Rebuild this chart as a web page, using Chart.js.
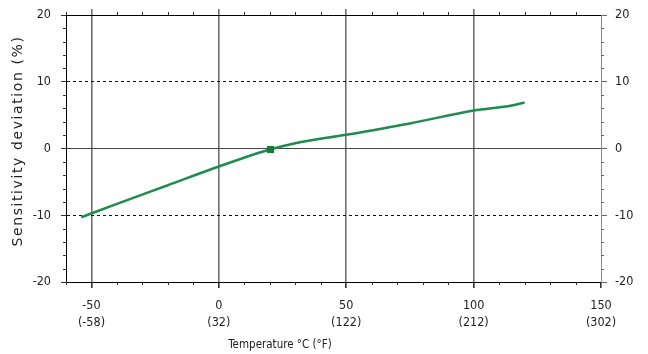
<!DOCTYPE html>
<html><head><meta charset="utf-8">
<script src="https://cdn.jsdelivr.net/npm/chart.js@4.4.1/dist/chart.umd.min.js"></script>
<style>html,body{margin:0;padding:0;background:#fff;}#wrap{width:648px;height:354px;}</style>
</head><body><div id="wrap"><canvas id="c" width="648" height="354"></canvas></div>
<script>
// ---- data ----
const tempC = [-54, -40, -20, 0, 20, 30, 50, 75, 100, 115, 120];
const deviation = [-10.3, -8.3, -5.5, -2.7, -0.15, 0.8, 2.05, 3.75, 5.7, 6.45, 6.9];
const markerC = [20.3];
const markerDev = [-0.15];
const xMajorTicks = [-50, 0, 50, 100, 150];
const xTickLabelsF = ['(-58)', '(32)', '(122)', '(212)', '(302)'];
const yTicks = [-20, -10, 0, 10, 20];
const xMinorStep = 10;
const yMinorStep = 2;
const xTitle = 'Temperature °C (°F)';
const yTitle = 'Sensitivity deviation (%)';

const narrowFamily = "'DejaVu Sans Condensed', 'Liberation Sans Narrow', sans-serif";
const tickFont = {family: narrowFamily, size: 12.5, lineHeight: 1.3};
const CLEAR = 'rgba(0,0,0,0)';

const noPad = s => { s.paddingTop = 0; s.paddingBottom = 0; s.paddingLeft = 0; s.paddingRight = 0; };

const decor = {
  id: 'decor',
  afterDraw(chart) {
    const ctx = chart.ctx, a = chart.chartArea;
    const xs = chart.scales.x, ys = chart.scales.y;
    ctx.save();
    ctx.lineWidth = 1;
    ctx.strokeStyle = '#333';
    // minor x ticks (outside, top and bottom)
    for (let v = xs.min; v <= xs.max; v += xMinorStep) {
      if (xMajorTicks.includes(v)) continue;
      const px = Math.round(xs.getPixelForValue(v)) + 0.5;
      ctx.beginPath();
      ctx.moveTo(px, a.bottom); ctx.lineTo(px, a.bottom + 3);
      ctx.moveTo(px, a.top); ctx.lineTo(px, a.top - 3);
      ctx.stroke();
    }
    // minor y ticks (outside, left and right)
    for (let v = ys.min; v <= ys.max; v += yMinorStep) {
      if (yTicks.includes(v)) continue;
      const py = Math.round(ys.getPixelForValue(v)) + 0.5;
      ctx.strokeStyle = '#333';
      ctx.beginPath(); ctx.moveTo(a.left - 3, py); ctx.lineTo(a.left, py); ctx.stroke();
      ctx.strokeStyle = '#666';
      ctx.beginPath(); ctx.moveTo(a.right, py); ctx.lineTo(a.right + 3, py); ctx.stroke();
    }
    // axis titles
    ctx.fillStyle = '#222';
    ctx.font = "11.5px " + narrowFamily;
    ctx.textAlign = 'center';
    ctx.textBaseline = 'middle';
    ctx.fillText(xTitle, xs.getPixelForValue(24), 345);
    ctx.translate(18, 141);
    ctx.rotate(-Math.PI / 2);
    ctx.font = "14px 'DejaVu Sans', sans-serif";
    try { ctx.letterSpacing = '1.6px'; } catch (e) {}
    ctx.fillText(yTitle, 0, 0);
    ctx.restore();
  }
};

new Chart(document.getElementById('c'), {
  type: 'line',
  data: {
    datasets: [
      {
        data: tempC.map((x, i) => ({x: x, y: deviation[i]})),
        borderColor: '#1f8b4c',
        borderWidth: 2.5,
        pointRadius: 0,
        fill: false,
        order: 2,
        cubicInterpolationMode: 'monotone'
      },
      {
        data: markerC.map((x, i) => ({x: x, y: markerDev[i]})),
        showLine: false,
        pointStyle: 'rect',
        pointRadius: 5,
        backgroundColor: '#177a3b',
        borderColor: '#177a3b',
        borderWidth: 0,
        order: 1
      }
    ]
  },
  options: {
    responsive: false,
    animation: false,
    devicePixelRatio: 1,
    layout: {padding: 0},
    plugins: {legend: {display: false}, tooltip: {enabled: false}},
    scales: {
      x: {
        type: 'linear', position: 'bottom', min: -60, max: 150,
        afterBuildTicks: s => { s.ticks = xMajorTicks.map(v => ({value: v})); },
        afterFit: s => { s.height = 72; noPad(s); },
        ticks: {
          autoSkip: false, maxRotation: 0, padding: 10, color: '#222', font: tickFont,
          callback: v => [String(v), xTickLabelsF[xMajorTicks.indexOf(v)]]
        },
        grid: {
          color: c => (c.tick && c.tick.value === 150) ? CLEAR : '#707070',
          lineWidth: 1.6, tickLength: 6, tickColor: '#333'
        },
        border: {display: true, color: '#000', width: 1}
      },
      x2: {
        type: 'linear', position: 'top', min: -60, max: 150,
        afterBuildTicks: s => { s.ticks = xMajorTicks.map(v => ({value: v})); },
        afterFit: s => { s.height = 15; noPad(s); },
        ticks: {display: false},
        grid: {drawOnChartArea: false, tickLength: 6, lineWidth: 1.6,
          tickColor: c => (c.tick && c.tick.value === 150) ? CLEAR : '#707070'},
        border: {display: true, color: '#000', width: 1}
      },
      y: {
        type: 'linear', position: 'left', min: -20, max: 20,
        afterBuildTicks: s => { s.ticks = yTicks.map(v => ({value: v})); },
        afterFit: s => { s.width = 66; noPad(s); },
        ticks: {padding: 10, color: '#222', font: tickFont},
        grid: {
          color: c => (c.tick && Math.abs(c.tick.value) === 20) ? CLEAR : (c.tick && c.tick.value === 0 ? '#444' : '#111'),
          lineWidth: 1, tickLength: 5, tickColor: '#333'
        },
        border: {display: true, color: '#000', width: 1,
          dash: c => (c.tick && Math.abs(c.tick.value) === 10) ? [3, 3] : []}
      },
      y2: {
        type: 'linear', position: 'right', min: -20, max: 20,
        afterBuildTicks: s => { s.ticks = yTicks.map(v => ({value: v})); },
        afterFit: s => { s.width = 47; noPad(s); },
        ticks: {padding: 8, color: '#222', font: tickFont},
        grid: {drawOnChartArea: false, tickLength: 6, tickColor: '#666'},
        border: {display: true, color: '#888', width: 1}
      }
    }
  },
  plugins: [decor]
});
</script>
</body></html>
